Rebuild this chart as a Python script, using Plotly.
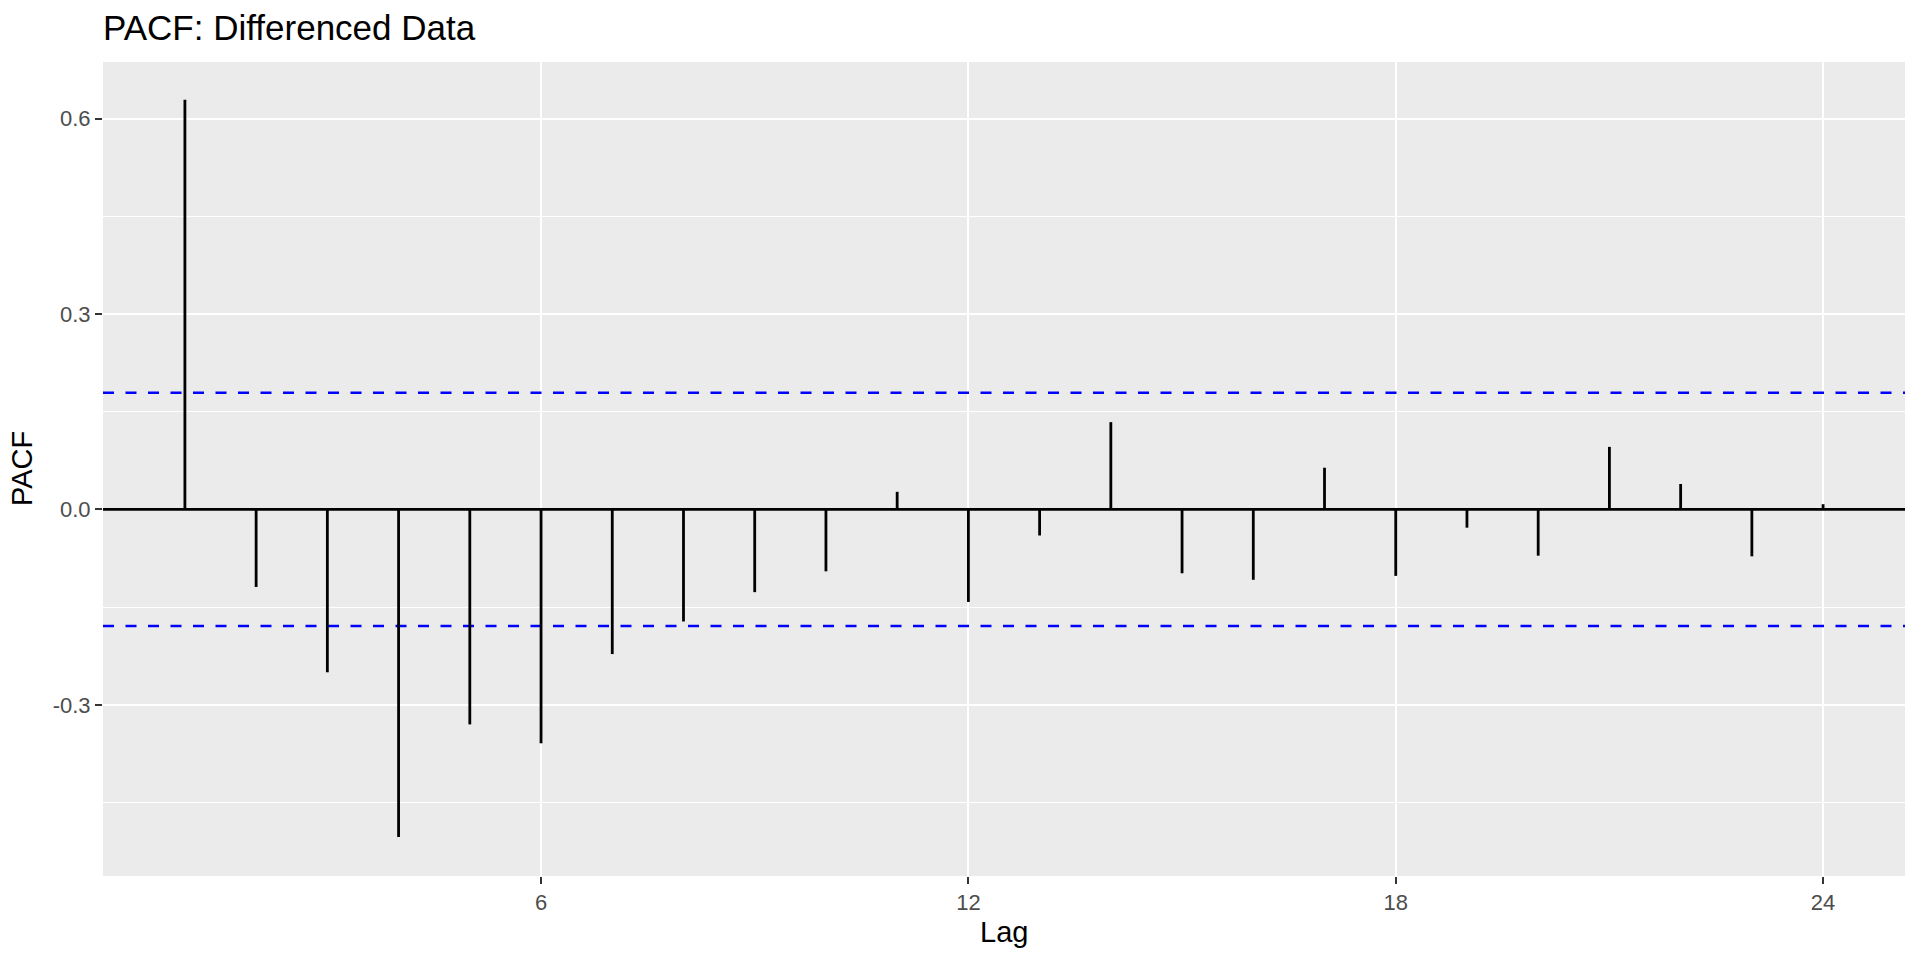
import plotly.graph_objects as go

lags = list(range(1, 25))
pacf = [0.629, -0.119, -0.250, -0.503, -0.330, -0.359, -0.222, -0.172, -0.127, -0.095,
        0.027, -0.142, -0.040, 0.134, -0.098, -0.108, 0.064, -0.102, -0.028, -0.071,
        0.096, 0.039, -0.072, 0.008]
ci = 0.179
x_ticks = [6, 12, 18, 24]
y_ticks = [-0.3, 0.0, 0.3, 0.6]
y_ticktext = ["-0.3", "0.0", "0.3", "0.6"]
x_range = [-0.15, 25.15]
y_range = [-0.5627, 0.6868]

FONT = "Liberation Sans, Arial, Helvetica, sans-serif"

W, H = 1920, 960
ML, MR, MT, MB = 103, 15, 62, 84
PW, PH = W - ML - MR, H - MT - MB

seg_x, seg_y = [], []
for lg, v in zip(lags, pacf):
    seg_x += [lg, lg, None]
    seg_y += [0, v, None]

fig = go.Figure()
fig.add_trace(go.Scatter(x=x_range, y=[0, 0], mode="lines",
                         line=dict(color="black", width=2.6), hoverinfo="skip", showlegend=False))
for b in (ci, -ci):
    fig.add_trace(go.Scatter(x=x_range, y=[b, b], mode="lines",
                             line=dict(color="blue", width=2.6, dash="11px,11.5px"),
                             hoverinfo="skip", showlegend=False))
fig.add_trace(go.Scatter(x=seg_x, y=seg_y, mode="lines",
                         line=dict(color="black", width=2.8), showlegend=False))

fig.add_annotation(text="Lag", xref="paper", yref="paper", x=0.5, y=-(932 - (MT + PH)) / PH,
                   xanchor="center", yanchor="middle", showarrow=False,
                   font=dict(family=FONT, size=29, color="black"))
fig.add_annotation(text="PACF", xref="paper", yref="paper", x=(22 - ML) / PW, y=0.5,
                   xanchor="center", yanchor="middle", showarrow=False, textangle=-90,
                   font=dict(family=FONT, size=29, color="black"))

fig.update_layout(
    width=W, height=H,
    paper_bgcolor="white", plot_bgcolor="#EBEBEB",
    margin=dict(l=ML, r=MR, t=MT, b=MB, pad=0, autoexpand=False),
    font=dict(family=FONT, color="black"),
    title=dict(text="PACF: Differenced Data", x=ML / W, xanchor="left", xref="container",
               y=1 - 28 / H, yanchor="middle", yref="container",
               font=dict(family=FONT, size=35, color="black")),
    xaxis=dict(range=x_range, tickvals=x_ticks, ticktext=[str(t) for t in x_ticks],
               showgrid=True, gridcolor="white", gridwidth=2.3, automargin=False,
               zeroline=False, showline=False,
               ticks="outside", ticklen=7, tickwidth=2.4, tickcolor="#333333",
               tickfont=dict(family=FONT, size=22, color="#4D4D4D")),
    yaxis=dict(range=y_range, tickvals=y_ticks, ticktext=y_ticktext, automargin=False,
               showgrid=True, gridcolor="white", gridwidth=2.3,
               minor=dict(tickvals=[-0.45, -0.15, 0.15, 0.45], showgrid=True,
                          gridcolor="white", gridwidth=1.2, ticks=""),
               zeroline=False, showline=False,
               ticks="outside", ticklen=7, tickwidth=2.4, tickcolor="#333333",
               tickfont=dict(family=FONT, size=22, color="#4D4D4D")),
)

fig.write_html("out.html", config={"displayModeBar": False},
               post_script="document.body.style.margin='0';")
